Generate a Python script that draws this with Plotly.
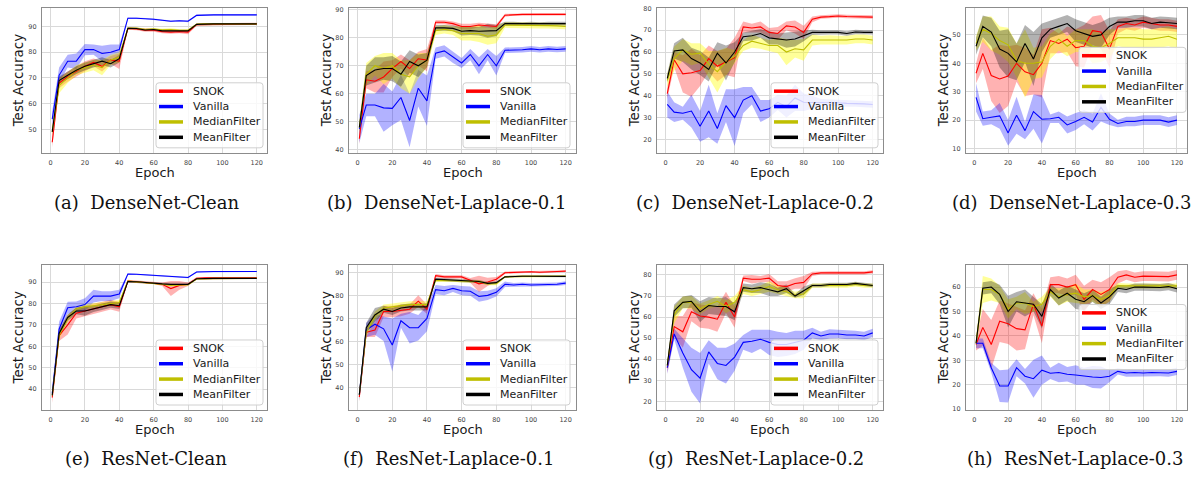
import plotly.graph_objects as go

W, H = 1197, 477

epochs = [1, 5, 10, 15, 20, 25, 30, 35, 40, 45, 50, 55, 60, 65, 70, 75, 80,
          85, 90, 95, 100, 105, 110, 115, 120]
x_ticks = [0, 20, 40, 60, 80, 100, 120]
series_names = ["SNOK", "Vanilla", "MedianFilter", "MeanFilter"]

# ---------------- (a) DenseNet-Clean ----------------
dn_clean_snok = [45, 68, 70.5, 72.5, 74.5, 76, 74.5, 77, 76.5, 89.2, 89, 88.5, 88.5, 88, 87.8, 88, 87.8, 90.7, 90.8, 90.9, 91, 91, 91, 91, 91]
dn_clean_snok_sd = [2, 2, 2, 2, 2, 1.5, 2, 1.5, 3, 0.5, 0.5, 0.6, 0.6, 0.6, 0.6, 0.6, 0.8, 0.4, 0.4, 0.4, 0.4, 0.4, 0.4, 0.4, 0.4]
dn_clean_van = [54, 71, 76.5, 76.5, 81, 81, 79.5, 80, 81, 93.2, 93.2, 93.1, 92.8, 92.4, 92, 92.2, 92, 94.3, 94.5, 94.5, 94.5, 94.5, 94.5, 94.5, 94.5]
dn_clean_van_sd = [3, 3, 2.5, 3, 2.2, 2, 3, 3, 2, 0.3, 0.3, 0.3, 0.3, 0.3, 0.3, 0.3, 0.4, 0.3, 0.2, 0.2, 0.2, 0.2, 0.2, 0.2, 0.2]
dn_clean_med = [49, 67, 70, 73, 74, 75, 74, 77, 78, 89.3, 89.3, 88.8, 89, 88.7, 88.8, 88.5, 88.5, 90.8, 91, 91, 91, 91, 91, 91, 91]
dn_clean_med_sd = [1.5, 3, 2, 2, 2, 2, 3, 2, 2, 0.4, 0.4, 0.4, 0.4, 0.4, 0.5, 0.4, 0.4, 0.3, 0.3, 0.3, 0.3, 0.3, 0.3, 0.3, 0.3]
dn_clean_mean = [49, 69, 71, 73, 74.5, 75.5, 76.5, 75.5, 77.5, 89.3, 89.2, 88.6, 88.8, 88.3, 88.3, 88.4, 88.3, 90.8, 91, 91, 91, 91, 91, 91, 91]
dn_clean_mean_sd = [1.5, 1.5, 1.5, 1.5, 1.5, 1.5, 1.5, 1.5, 1.5, 0.4, 0.4, 0.4, 0.4, 0.4, 0.4, 0.4, 0.4, 0.3, 0.3, 0.3, 0.3, 0.3, 0.3, 0.3, 0.3]

# ---------------- (b) DenseNet-Laplace-0.1 ----------------
dn_l01_snok = [44, 65, 64.5, 66, 69, 71.5, 69, 72.5, 72, 85.5, 85.5, 85, 84, 84, 84.5, 84.3, 84, 88, 88.2, 88.3, 88.3, 88.3, 88.3, 88.3, 88.3]
dn_l01_snok_sd = [2, 3, 4, 5.5, 3, 2.5, 3, 2.5, 4, 0.7, 0.7, 0.8, 1, 1, 0.8, 0.8, 0.8, 0.5, 0.4, 0.4, 0.4, 0.4, 0.4, 0.4, 0.4]
dn_l01_van = [47.5, 56, 56, 55, 54.8, 58.7, 50.5, 62, 57.5, 74.5, 75.3, 73, 71, 74, 70, 74, 70, 75.5, 75.5, 75.7, 76, 75.7, 76, 75.8, 76]
dn_l01_van_sd = [5, 4, 4, 8.5, 6, 8, 9.5, 6.5, 9, 2, 2, 2, 1.8, 2, 3, 2, 3.5, 1, 1, 1, 1, 1, 1, 1, 1]
dn_l01_med = [48, 67, 70, 69, 70, 67, 66, 70, 72, 82.5, 83, 82.5, 81.5, 81.5, 81.5, 80.5, 81, 84.5, 84.5, 84.5, 84.3, 84.3, 84.3, 84.2, 84]
dn_l01_med_sd = [2, 4, 3.5, 5.5, 4.5, 5, 6, 4.5, 2.5, 1.5, 1.5, 1.5, 2.5, 2.5, 3, 3, 3, 1, 1, 1, 1, 1, 1, 1, 1]
dn_l01_mean = [48, 66.5, 68.5, 69, 69, 67, 71.5, 70, 72, 83.5, 83.5, 83.3, 82.3, 82.5, 82.3, 82.5, 82.5, 85, 85, 84.8, 85, 84.8, 85, 85, 85]
dn_l01_mean_sd = [2, 3.5, 4.5, 4, 4.5, 4.5, 4, 4, 2.5, 1, 1, 1, 1.5, 1.5, 1.5, 2.5, 2, 0.7, 0.7, 0.7, 0.7, 0.7, 0.7, 0.7, 0.7]

# ---------------- (c) DenseNet-Laplace-0.2 ----------------
dn_l02_snok = [41, 56.5, 50, 50.5, 51.5, 57, 53.5, 55.5, 57.5, 71.5, 71, 71.5, 69, 68.5, 72, 71.5, 69, 75, 76, 76.2, 76.5, 76.3, 76.2, 76, 76]
dn_l02_snok_sd = [2.5, 3.5, 8.5, 11, 7, 6, 7, 6, 9, 2.5, 2, 2.5, 2, 3, 2, 3, 3, 1.3, 0.8, 0.8, 0.8, 0.8, 0.8, 0.8, 0.8]
dn_l02_van = [36, 32.5, 32, 33, 26, 33, 25, 35.5, 30, 38, 40, 33, 34, 37, 35, 39, 37, 37, 37, 36.8, 36.8, 36.5, 36.5, 36.3, 36]
dn_l02_van_sd = [6, 4.5, 3, 7.5, 7, 12, 7, 7.5, 13, 6, 4, 5, 4, 3.5, 5, 6, 4, 3, 1.5, 1.5, 1.5, 1.5, 1.5, 1.5, 1.5]
dn_l02_med = [47, 57, 61, 59, 59.5, 54.5, 51, 55.5, 58, 63, 65, 64, 63, 63, 60, 61.5, 61, 65.5, 65.5, 65.7, 65.5, 65.5, 66, 66, 65.5]
dn_l02_med_sd = [3, 5.5, 5, 5, 4.5, 6, 9.5, 6.5, 3, 2.5, 3, 2.5, 2.5, 3.5, 6, 4, 5, 2.5, 2, 2, 2, 2, 2, 2, 2]
dn_l02_mean = [48, 60.5, 61, 57, 55, 52, 59.5, 55, 60, 67, 67.5, 68.5, 66.5, 66, 65.5, 66, 67.5, 69, 69, 69, 69, 68.5, 69.2, 69, 69]
dn_l02_mean_sd = [2, 3.5, 5.5, 5, 5.5, 5.5, 5, 8, 4.5, 2, 2.2, 2, 3, 2.5, 3.5, 3.5, 2.5, 1.2, 1, 1, 1, 1, 1, 1, 1]

# ---------------- (d) DenseNet-Laplace-0.3 ----------------
dn_l03_snok = [36.5, 43.5, 35.7, 34.5, 35.5, 40, 37, 36, 40, 48, 47, 48.5, 45.5, 46, 51.5, 51, 45, 53, 54, 53.5, 54.5, 54, 53.5, 53.5, 53]
dn_l03_snok_sd = [3.5, 5.5, 9, 12, 10.5, 6.5, 8.5, 7, 12, 4.5, 3.5, 4.5, 6.5, 7.5, 5, 6, 6.5, 2.5, 2, 2, 2, 2, 2, 2, 2]
dn_l03_van = [28, 20.5, 21, 21.5, 15.5, 21.7, 16.3, 23, 20.3, 20.5, 21, 18.3, 19.5, 21, 19.3, 24.5, 20.3, 18.8, 19.5, 19.5, 20, 20, 20, 19.3, 20]
dn_l03_van_sd = [5, 2.5, 2.5, 4.5, 4.5, 6.5, 3, 6, 8.5, 1.5, 2, 3, 3, 2.5, 3, 5, 2, 1.3, 1.7, 1.7, 1.7, 1.7, 1.7, 1.7, 1.7]
dn_l03_med = [47, 52, 50.5, 48, 46.5, 41, 40, 40, 40.5, 46, 48.5, 46, 48, 48, 46, 45.5, 47, 49, 49, 49, 48.5, 48.5, 49, 49.5, 48.5]
dn_l03_med_sd = [2.5, 4.5, 6, 5, 6, 6, 12, 5.5, 5.5, 4.5, 4, 3.5, 4, 4, 6, 5, 5, 3, 3.5, 3.5, 3.5, 3.5, 3.5, 3.5, 3.5]
dn_l03_mean = [46, 53, 51, 45, 43.5, 40.5, 47, 41.5, 49, 52, 53, 54, 51.5, 50.5, 49.5, 50, 53, 54.5, 54.5, 55, 55, 54, 54.5, 54.3, 54]
dn_l03_mean_sd = [3, 3.8, 5, 6.5, 8.5, 6.5, 6.5, 9.5, 5, 3, 3, 3, 4, 4, 4, 4.5, 3, 2, 2, 2, 2, 2, 2, 2, 2]

# ---------------- (e) ResNet-Clean ----------------
rn_clean_snok = [36, 65, 70, 75.5, 76.5, 77.5, 78.5, 79.5, 78.5, 90.5, 90.2, 89.8, 89.6, 89, 87, 88.5, 89, 91.8, 92, 92, 92, 92, 92, 92, 92]
rn_clean_snok_sd = [2.5, 2.5, 4.5, 2.5, 2.5, 2.3, 2.3, 2.3, 2.3, 0.6, 0.5, 0.5, 0.5, 0.8, 3.5, 2, 0.8, 0.5, 0.4, 0.4, 0.4, 0.4, 0.4, 0.4, 0.4]
rn_clean_van = [38, 68, 78, 78.5, 79.5, 83.5, 83.5, 83.5, 84.5, 93.8, 93.7, 93.4, 93.2, 93, 92.7, 92.5, 92.2, 94.8, 95, 95, 95, 95, 95, 95, 95]
rn_clean_van_sd = [2.5, 3.5, 2.8, 2.5, 3, 3, 2.3, 2.3, 2, 0.3, 0.3, 0.3, 0.3, 0.3, 0.3, 0.3, 0.3, 0.3, 0.2, 0.2, 0.2, 0.2, 0.2, 0.2, 0.2]
rn_clean_med = [37, 65, 73, 77.5, 78.5, 79, 79.5, 80, 80.5, 90.5, 90.2, 89.8, 89.5, 89, 88.5, 88.5, 88.8, 91.5, 91.8, 91.8, 91.8, 91.8, 91.8, 91.8, 91.8]
rn_clean_med_sd = [1.5, 2, 1.5, 1.2, 1.2, 1.2, 1.2, 1.2, 1.2, 0.4, 0.4, 0.4, 0.4, 0.4, 0.4, 0.4, 0.4, 0.3, 0.3, 0.3, 0.3, 0.3, 0.3, 0.3, 0.3]
rn_clean_mean = [37, 66, 73.5, 76.5, 76.5, 77.5, 78.5, 79.5, 79, 90.3, 90.2, 89.8, 89.6, 89.2, 89, 89, 89, 91.6, 91.8, 91.8, 91.8, 91.8, 91.8, 91.8, 91.8]
rn_clean_mean_sd = [1.5, 1.5, 1.5, 1.5, 2.2, 1.5, 1.5, 1.5, 1.5, 0.4, 0.4, 0.4, 0.4, 0.4, 0.4, 0.4, 0.4, 0.3, 0.3, 0.3, 0.3, 0.3, 0.3, 0.3, 0.3]

# ---------------- (f) ResNet-Laplace-0.1 ----------------
rn_l01_snok = [36, 64, 65, 73, 73, 73.5, 74, 77.5, 74, 88.5, 88, 88, 88, 86.5, 85, 85.8, 87, 89.8, 90, 90, 90.2, 90, 90.3, 90.3, 90.5]
rn_l01_snok_sd = [2, 2, 3, 2.5, 2.5, 2.5, 2, 2.5, 2, 0.7, 0.7, 0.7, 0.7, 1, 3.5, 1.8, 1, 0.5, 0.4, 0.4, 0.4, 0.4, 0.4, 0.4, 0.4]
rn_l01_van = [37, 65, 67.5, 65.5, 58.5, 69, 66, 66, 70, 82.5, 82, 83, 82, 81.8, 79.5, 80, 81.3, 84.8, 84.5, 84.8, 84.5, 84.5, 84.8, 84.8, 85.3]
rn_l01_van_sd = [2.5, 3, 4.5, 5.3, 11.5, 3, 6.8, 5.5, 5.5, 2, 2, 1.5, 2, 2, 2.3, 2, 1.8, 1.2, 0.8, 0.8, 0.8, 0.8, 0.8, 0.8, 0.8]
rn_l01_med = [37, 64, 71, 74.5, 75, 75.5, 76, 76, 76, 86.5, 86.5, 86.5, 86.2, 86, 86, 85, 85, 88, 88.3, 88.3, 88.3, 88.3, 88.3, 88.3, 88.3]
rn_l01_med_sd = [1.5, 2, 2, 1.5, 1.5, 1.5, 1.5, 1.5, 1.5, 0.6, 0.6, 0.6, 0.6, 0.6, 0.6, 0.6, 0.6, 0.4, 0.4, 0.4, 0.4, 0.4, 0.4, 0.4, 0.4]
rn_l01_mean = [37, 66, 71.5, 74, 73, 74.5, 75, 75, 75, 87, 86.8, 86.5, 86.3, 86, 86, 85.2, 85.5, 88, 88.3, 88.3, 88.3, 88.3, 88.3, 88.3, 88.2]
rn_l01_mean_sd = [1.5, 2, 3, 1.5, 1.5, 1.5, 1.5, 1.5, 1.5, 0.6, 0.6, 0.6, 0.6, 0.6, 0.6, 0.6, 0.6, 0.4, 0.4, 0.4, 0.4, 0.4, 0.4, 0.4, 0.4]

# ---------------- (g) ResNet-Laplace-0.2 ----------------
rn_l02_snok = [36, 55.5, 53, 62.5, 60.5, 60, 59, 67, 60, 78.5, 78, 78, 78.5, 75, 74.5, 76, 76.5, 80.5, 81, 81, 81, 81, 81, 81, 81.5]
rn_l02_snok_sd = [2.5, 5, 7.5, 4.5, 5.5, 5.5, 6, 5, 5, 1.3, 2, 1.5, 2, 2, 2.5, 2.5, 3, 1, 0.8, 0.8, 0.8, 0.8, 0.8, 0.8, 0.8]
rn_l02_van = [36, 52, 43, 35, 31, 43.5, 38, 37, 41, 48, 48.5, 49.5, 48, 47, 47, 48, 49, 52.5, 51, 52, 52, 51.5, 51.5, 51, 52.5]
rn_l02_van_sd = [3, 2.5, 7, 10.5, 12, 5.5, 7.5, 8.5, 6.5, 3.5, 5.5, 4.5, 6, 6, 5.5, 5.5, 4.5, 2.5, 2, 2.2, 2, 2, 2, 2, 2]
rn_l02_med = [37, 61, 67, 67, 64, 66, 67.5, 65, 67, 73, 72, 73, 74.5, 73, 72, 70.5, 71, 75, 75, 75, 75, 75, 75.5, 75, 75]
rn_l02_med_sd = [1.5, 4, 2.8, 3, 2.5, 2, 2.5, 3, 3, 2, 2, 2, 2.5, 2, 2, 1.5, 2, 1, 1, 1, 1, 1, 1, 1, 1]
rn_l02_mean = [37, 63, 67, 67.5, 62.5, 65.5, 65, 65, 62.5, 74, 73.5, 74, 73, 72, 73.5, 70, 72.5, 75, 75, 75.5, 75.5, 75.5, 76, 75.5, 75]
rn_l02_mean_sd = [1.5, 3, 2.8, 3, 5, 4, 4, 4.5, 4, 2, 2, 2.5, 3, 2, 2, 0.8, 2, 0.8, 0.8, 0.8, 0.8, 0.8, 0.8, 0.8, 0.8]

# ---------------- (h) ResNet-Laplace-0.3 ----------------
rn_l03_snok = [36.5, 43.5, 36.5, 46, 45, 43, 42.5, 53, 44, 61, 61, 60, 61, 55, 59, 57, 59, 64, 65, 64, 64.5, 64.5, 64.5, 64.3, 65]
rn_l03_snok_sd = [2.5, 7.5, 10, 8.5, 8.3, 9, 8, 4.5, 7, 3, 3.5, 3.5, 4, 5.5, 4, 5, 5, 2.5, 2, 2, 2, 2, 2, 2, 2]
rn_l03_van = [37, 37, 27, 19.5, 19.5, 27, 23.5, 22.5, 26, 24.7, 25, 24.3, 24, 23.5, 23.2, 23, 23.5, 25.5, 24.8, 25, 24.8, 25, 25, 24.8, 25.5]
rn_l03_van_sd = [2, 2, 2, 6.5, 6.8, 3.5, 3, 7.8, 6, 2.3, 4, 3, 4, 3.5, 4.5, 4.5, 2.5, 1.3, 1.5, 1.5, 1.5, 1.5, 1.5, 1.5, 1.5]
rn_l03_med = [37, 59, 59, 57, 51, 53.5, 53.5, 52, 53, 58, 56, 57, 57.5, 56, 56.5, 55, 56.5, 60.5, 60.5, 60.5, 60.5, 60.5, 60.5, 60.5, 60.5]
rn_l03_med_sd = [2, 5.5, 4.5, 3.5, 4, 2.5, 4.5, 2, 3, 2, 3.5, 3, 4, 3, 2.5, 3, 2.5, 1.2, 1, 1, 1, 1, 1, 1, 1]
rn_l03_mean = [37, 59.5, 60, 57, 50, 54, 53.5, 53, 48, 59, 55.5, 57.5, 55, 54, 56.5, 53.5, 56, 59.5, 59, 60, 60, 60, 59.8, 60.2, 59.3]
rn_l03_mean_sd = [2, 2.5, 2.5, 4, 6.5, 4, 5.5, 3, 5, 2.5, 3, 3, 4, 3.5, 2.5, 2.5, 3, 1.5, 1.5, 1.5, 1.5, 1.5, 1.5, 1.5, 1.5]

captions = ["(a)  DenseNet-Clean", "(b)  DenseNet-Laplace-0.1", "(c)  DenseNet-Laplace-0.2",
            "(d)  DenseNet-Laplace-0.3", "(e)  ResNet-Clean", "(f)  ResNet-Laplace-0.1",
            "(g)  ResNet-Laplace-0.2", "(h)  ResNet-Laplace-0.3"]
y_ranges = [[40.9, 97.2], [39.0, 90.6], [13.9, 80.2], [8.5, 59.5],
            [30.2, 98.0], [30.4, 93.1], [15.9, 84.7], [9.7, 69.0]]
y_ticks = [[50, 60, 70, 80, 90], [40, 50, 60, 70, 80, 90], [20, 30, 40, 50, 60, 70, 80],
           [10, 20, 30, 40, 50], [40, 50, 60, 70, 80, 90], [40, 50, 60, 70, 80, 90],
           [20, 30, 40, 50, 60, 70, 80], [10, 20, 30, 40, 50, 60]]

panel_series = [
    [(dn_clean_snok, dn_clean_snok_sd), (dn_clean_van, dn_clean_van_sd), (dn_clean_med, dn_clean_med_sd), (dn_clean_mean, dn_clean_mean_sd)],
    [(dn_l01_snok, dn_l01_snok_sd), (dn_l01_van, dn_l01_van_sd), (dn_l01_med, dn_l01_med_sd), (dn_l01_mean, dn_l01_mean_sd)],
    [(dn_l02_snok, dn_l02_snok_sd), (dn_l02_van, dn_l02_van_sd), (dn_l02_med, dn_l02_med_sd), (dn_l02_mean, dn_l02_mean_sd)],
    [(dn_l03_snok, dn_l03_snok_sd), (dn_l03_van, dn_l03_van_sd), (dn_l03_med, dn_l03_med_sd), (dn_l03_mean, dn_l03_mean_sd)],
    [(rn_clean_snok, rn_clean_snok_sd), (rn_clean_van, rn_clean_van_sd), (rn_clean_med, rn_clean_med_sd), (rn_clean_mean, rn_clean_mean_sd)],
    [(rn_l01_snok, rn_l01_snok_sd), (rn_l01_van, rn_l01_van_sd), (rn_l01_med, rn_l01_med_sd), (rn_l01_mean, rn_l01_mean_sd)],
    [(rn_l02_snok, rn_l02_snok_sd), (rn_l02_van, rn_l02_van_sd), (rn_l02_med, rn_l02_med_sd), (rn_l02_mean, rn_l02_mean_sd)],
    [(rn_l03_snok, rn_l03_snok_sd), (rn_l03_van, rn_l03_van_sd), (rn_l03_med, rn_l03_med_sd), (rn_l03_mean, rn_l03_mean_sd)],
]

# ---------------- styling / layout (pixels) ----------------
line_colors = ["#ff0000", "#0000ff", "#bfbf00", "#000000"]
fill_colors = ["rgba(255,0,0,0.3)", "rgba(0,0,255,0.3)", "rgba(255,255,0,0.4)", "rgba(0,0,0,0.3)"]
COL_X = [(42, 267), (349, 576), (657, 883), (966, 1187)]
ROW_Y = [(5, 152), (266, 413)]
YTITLE_X = [18, 326, 634, 943]
EPOCH_Y = [172, 433]
CAPTION_Y = [202, 462]
CAPTION_X = [146, 446, 755, 1071, 146, 448, 756, 1075]
LEGEND_BOX = [(156, 81), (463, 81), (771, 81), (1079, 45),
              (156, 342), (463, 342), (771, 342), (1079, 306)]
LEG_W, LEG_H = 107, 66
X_RANGE = [-4.95, 125.95]

def px(x):
    return x / W

def py(y):
    return 1 - y / H

fig = go.Figure()
layout = dict(width=W, height=H, margin=dict(l=0, r=0, t=0, b=0),
              paper_bgcolor="white", plot_bgcolor="white", showlegend=False,
              font=dict(family="DejaVu Sans"))
annotations = []
shapes = []

for i in range(8):
    r, c = divmod(i, 4)
    n = "" if i == 0 else str(i + 1)
    xa, ya = "x" + n, "y" + n
    # bands first
    for k, (m, s) in enumerate(panel_series[i]):
        up = [a + b for a, b in zip(m, s)]
        lo = [a - b for a, b in zip(m, s)]
        fig.add_trace(go.Scatter(x=epochs + epochs[::-1], y=up + lo[::-1], fill="toself",
                                 fillcolor=fill_colors[k], line=dict(width=0), mode="lines",
                                 hoverinfo="skip", showlegend=False, xaxis=xa, yaxis=ya))
    for k, (m, s) in enumerate(panel_series[i]):
        fig.add_trace(go.Scatter(x=epochs, y=m, mode="lines", name=series_names[k],
                                 line=dict(color=line_colors[k], width=1.1),
                                 showlegend=False, xaxis=xa, yaxis=ya))
    x0, x1 = COL_X[c]
    y0, y1 = ROW_Y[r]
    common = dict(showgrid=True, gridcolor="#d9d9d9", gridwidth=1, showline=True, mirror=True,
                  linecolor="#8c8c8c", linewidth=1.3, zeroline=False,
                  tickfont=dict(size=6.5, color="#444444", family="DejaVu Sans"),
                  ticks="outside", ticklen=3, tickcolor="rgba(0,0,0,0)")
    layout["xaxis" + n] = dict(domain=[px(x0), px(x1)], anchor=ya, range=X_RANGE,
                               tickvals=x_ticks, **common)
    layout["yaxis" + n] = dict(domain=[py(y1), py(y0)], anchor=xa, range=y_ranges[i],
                               tickvals=y_ticks[i], **common)
    # axis titles
    annotations.append(dict(x=px(YTITLE_X[c]), y=py((y0 + y1) / 2), xref="paper", yref="paper",
                            text="Test Accuracy", textangle=-90, showarrow=False,
                            font=dict(size=13.5, color="#1a1a1a", family="DejaVu Sans"),
                            xanchor="center", yanchor="middle"))
    annotations.append(dict(x=px((x0 + x1) / 2), y=py(EPOCH_Y[r]), xref="paper", yref="paper",
                            text="Epoch", showarrow=False, borderpad=0,
                            font=dict(size=13, color="#1a1a1a", family="DejaVu Sans"),
                            xanchor="center", yanchor="middle"))
    annotations.append(dict(x=px(CAPTION_X[i]), y=py(CAPTION_Y[r]), xref="paper", yref="paper",
                            text=captions[i], showarrow=False,
                            font=dict(size=18, color="#111111", family="DejaVu Serif"),
                            xanchor="center", yanchor="middle"))
    # legend box
    lx, ly = LEGEND_BOX[i]
    rr = 3
    X0, X1, Y0, Y1 = lx, lx + LEG_W, ly, ly + LEG_H
    path = (f"M {px(X0 + rr)},{py(Y0)} L {px(X1 - rr)},{py(Y0)} Q {px(X1)},{py(Y0)} {px(X1)},{py(Y0 + rr)} "
            f"L {px(X1)},{py(Y1 - rr)} Q {px(X1)},{py(Y1)} {px(X1 - rr)},{py(Y1)} "
            f"L {px(X0 + rr)},{py(Y1)} Q {px(X0)},{py(Y1)} {px(X0)},{py(Y1 - rr)} "
            f"L {px(X0)},{py(Y0 + rr)} Q {px(X0)},{py(Y0)} {px(X0 + rr)},{py(Y0)} Z")
    shapes.append(dict(type="path", path=path, xref="paper", yref="paper",
                       fillcolor="rgba(255,255,255,0.8)", line=dict(color="#d0d0d0", width=1)))
    for k in range(4):
        cy = ly + 8.5 + k * 15.6
        shapes.append(dict(type="line", xref="paper", yref="paper",
                           x0=px(lx + 3), x1=px(lx + 27), y0=py(cy), y1=py(cy),
                           line=dict(color=line_colors[k], width=3.5)))
        annotations.append(dict(x=px(lx + 35), y=py(cy), xref="paper", yref="paper",
                                text=series_names[k], showarrow=False, xanchor="left",
                                yanchor="middle",
                                font=dict(size=11, color="#1a1a1a", family="DejaVu Sans")))

layout["annotations"] = annotations
layout["shapes"] = shapes
fig.update_layout(**layout)
fig.write_html("out.html", config={"displayModeBar": False},
               post_script="document.body.style.margin='0';document.body.style.overflow='hidden';")
